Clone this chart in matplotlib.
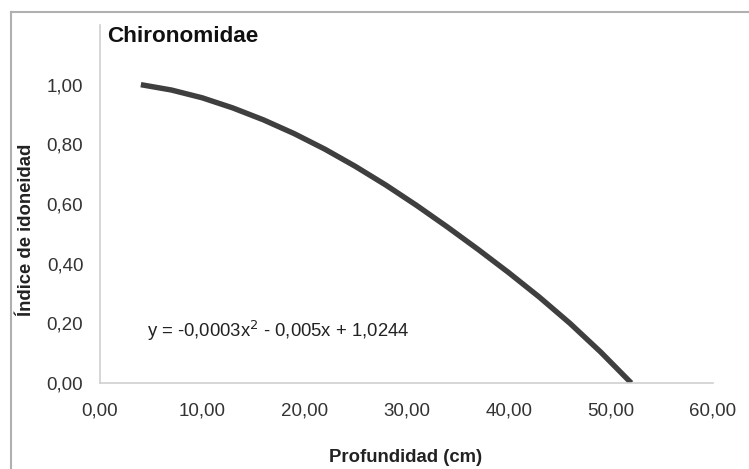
import matplotlib
matplotlib.use("Agg")
import matplotlib.pyplot as plt
from matplotlib.lines import Line2D

plt.rcParams["font.family"] = ["Liberation Sans", "DejaVu Sans"]

# depth (cm) and suitability index
depth = [4, 7, 10, 13, 16, 19, 22, 25, 28, 31, 34, 37, 40, 43, 46, 49, 52]
index = [1.00, 0.982, 0.956, 0.922, 0.882, 0.836, 0.784, 0.726, 0.663, 0.595,
         0.523, 0.448, 0.37, 0.288, 0.200, 0.104, 0.00]

x_ticks = [0, 10, 20, 30, 40, 50, 60]
y_ticks = [0.0, 0.2, 0.4, 0.6, 0.8, 1.0]
equation = "y = -0,0003x$^{2}$ - 0,005x + 1,0244"

W, H = 749, 469
fig = plt.figure(figsize=(W / 100, H / 100), dpi=100)
ax = fig.add_axes([100 / W, (H - 383) / H, 613 / W, 358 / H])

ax.plot(depth, index, color="#3f3f3f", linewidth=3.9, solid_capstyle="butt",
        solid_joinstyle="round")

ax.set_xlim(0, 60)
ax.set_ylim(0, 1.2)
ax.set_xticks(x_ticks)
ax.set_yticks(y_ticks)
ax.set_xticklabels([f"{v:.2f}".replace(".", ",") for v in x_ticks])
ax.set_yticklabels([f"{v:.2f}".replace(".", ",") for v in y_ticks])
ax.tick_params(length=0, labelsize=13.5, labelcolor="#333333")
ax.tick_params(axis="x", pad=14)
ax.tick_params(axis="y", pad=12)

for side in ["top", "right"]:
    ax.spines[side].set_visible(False)
for side in ["left", "bottom"]:
    ax.spines[side].set_color("#d0d0d0")
    ax.spines[side].set_linewidth(1.2)

ax.text(4.6, 0.175, equation, fontsize=13.3, color="#222222", va="center")

fig.text(107 / W, 1 - 37 / H, "Chironomidae", fontsize=16.2, fontweight="bold",
         va="center", ha="left", color="#111111")
fig.text(406 / W, 1 - 457 / H, "Profundidad (cm)", fontsize=13.3, fontweight="bold",
         ha="center", va="center", color="#222222")
fig.text(27 / W, 1 - 230 / H, "Índice de idoneidad", fontsize=13.3, fontweight="bold",
         rotation=90, ha="center", va="center", color="#222222")

# outer chart frame (top and left edges)
fig.add_artist(Line2D([10.5 / W, 10.5 / W], [0, 1 - 12 / H], color="#b0b0b0", linewidth=1.5))
fig.add_artist(Line2D([10.5 / W, 1], [1 - 12 / H, 1 - 12 / H], color="#b0b0b0", linewidth=1.5))

fig.savefig("out.png", dpi=100)
